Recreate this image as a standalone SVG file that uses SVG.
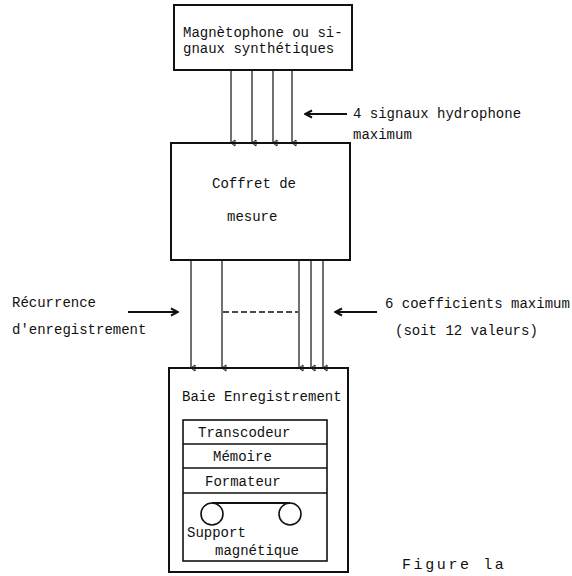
<svg xmlns="http://www.w3.org/2000/svg" width="572" height="576" viewBox="0 0 572 576">
<defs>
<style>
.box{fill:none;stroke:#111;stroke-width:2}
.inner{fill:none;stroke:#111;stroke-width:1.6}
.wire{fill:none;stroke:#111;stroke-width:1.2}
.harrow{fill:none;stroke:#111;stroke-width:2}
.dash{fill:none;stroke:#111;stroke-width:1.4;stroke-dasharray:6 3}
text{font-family:"Liberation Mono","DejaVu Sans Mono",monospace;font-size:14px;fill:#111}
</style>
<marker id="tip" viewBox="0 0 8 8" refX="4" refY="7" markerWidth="8" markerHeight="8" markerUnits="userSpaceOnUse" orient="auto-start-reverse">
<path d="M1,3 L7,3 L4,7 Z" fill="#fff" stroke="#111" stroke-width="1"/>
</marker>
<marker id="head" viewBox="0 0 10 10" refX="9" refY="5" markerWidth="10" markerHeight="10" markerUnits="userSpaceOnUse" orient="auto">
<path d="M2,1.5 L9,5 L2,8.5" fill="none" stroke="#111" stroke-width="2"/>
</marker>
</defs>
<rect width="572" height="576" fill="#fff"/>

<g id="connectors">
<line class="wire" x1="231" y1="70" x2="231" y2="143" marker-end="url(#tip)"/>
<line class="wire" x1="252" y1="70" x2="252" y2="143" marker-end="url(#tip)"/>
<line class="wire" x1="273" y1="70" x2="273" y2="143" marker-end="url(#tip)"/>
<line class="wire" x1="292" y1="70" x2="292" y2="143" marker-end="url(#tip)"/>
<line class="wire" x1="191" y1="260" x2="191" y2="368" marker-end="url(#tip)"/>
<line class="wire" x1="222" y1="260" x2="222" y2="368" marker-end="url(#tip)"/>
<line class="wire" x1="299" y1="260" x2="299" y2="368" marker-end="url(#tip)"/>
<line class="wire" x1="311" y1="260" x2="311" y2="368" marker-end="url(#tip)"/>
<line class="wire" x1="323" y1="260" x2="323" y2="368" marker-end="url(#tip)"/>
<line class="dash" x1="223" y1="312" x2="298" y2="312"/>
<line class="harrow" x1="347" y1="114" x2="305" y2="114" marker-end="url(#head)"/>
<line class="harrow" x1="128" y1="312" x2="178" y2="312" marker-end="url(#head)"/>
<line class="harrow" x1="377" y1="312" x2="335" y2="312" marker-end="url(#head)"/>
</g>

<g id="magnetophone">
<rect class="box" x="174" y="5" width="178" height="65"/>
<text x="183" y="37">Magnètophone ou si-</text>
<text x="183" y="53">gnaux synthétiques</text>
</g>

<g id="coffret">
<rect class="box" x="171" y="143" width="179" height="117"/>
<text x="212" y="188">Coffret de</text>
<text x="227" y="221">mesure</text>
</g>

<g id="baie">
<rect class="box" x="169" y="368" width="179" height="204"/>
<text x="182" y="401">Baie Enregistrement</text>
<rect class="inner" x="183" y="420" width="144" height="141"/>
<line class="inner" x1="183" y1="444" x2="327" y2="444"/>
<line class="inner" x1="183" y1="468" x2="327" y2="468"/>
<line class="inner" x1="183" y1="493" x2="327" y2="493"/>
<text x="198" y="437">Transcodeur</text>
<text x="213" y="461">Mémoire</text>
<text x="205" y="486">Formateur</text>
<circle cx="212" cy="514" r="11" fill="none" stroke="#111" stroke-width="1.6"/>
<circle cx="290" cy="514" r="11" fill="none" stroke="#111" stroke-width="1.6"/>
<line x1="212" y1="503" x2="290" y2="503" stroke="#111" stroke-width="2"/>
<text x="187" y="537">Support</text>
<text x="215" y="555">magnétique</text>
</g>

<g id="labels">
<text x="353" y="118">4 signaux hydrophone</text>
<text x="353" y="139">maximum</text>
<text x="12" y="307">Récurrence</text>
<text x="12" y="334">d'enregistrement</text>
<text x="385" y="308">6 coefficients maximum</text>
<text x="395" y="335">(soit 12 valeurs)</text>
<text x="402" y="569" style="font-size:15px;letter-spacing:2.6px">Figure la</text>
</g>
</svg>
